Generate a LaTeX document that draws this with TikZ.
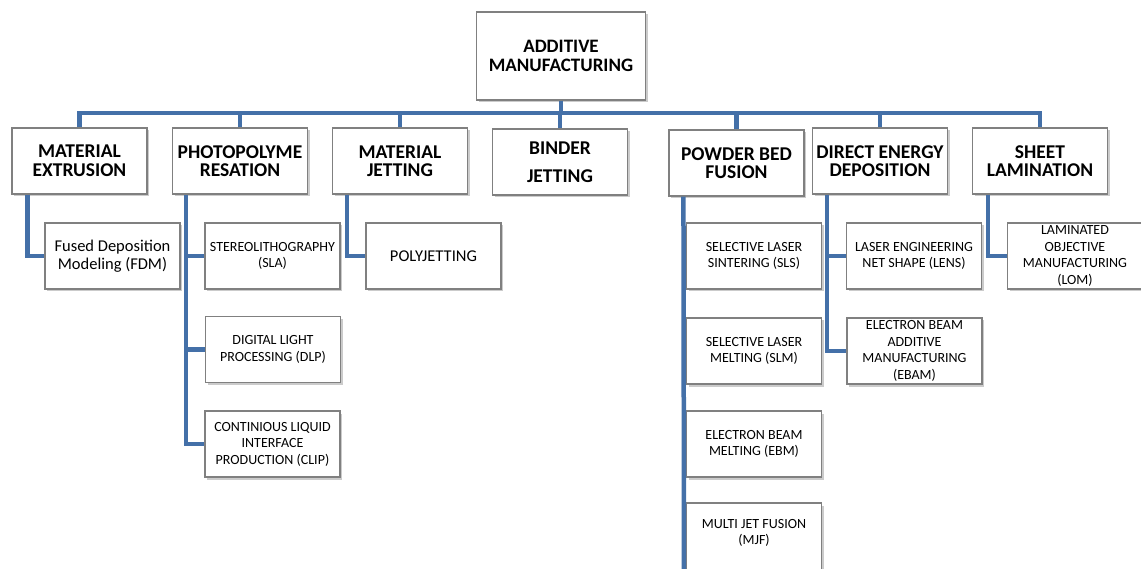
\documentclass[tikz,border=0pt]{standalone}
\usepackage{fontspec}
\setmainfont{Carlito}
\usetikzlibrary{shadows,calc}
\definecolor{conncol}{RGB}{68,112,168}
\definecolor{boxborder}{RGB}{128,128,128}
\tikzset{
  box/.style={draw=boxborder, line width=1.1pt, fill=white, align=center,
    minimum width=135pt, minimum height=66pt, inner sep=1pt,
    drop shadow={shadow xshift=2pt, shadow yshift=-2.5pt, fill=black!45, opacity=.45}},
  topbox/.style={box, font=\fontsize{19.5}{18.5}\selectfont\bfseries},
  subbox/.style={box, font=\fontsize{14}{16.5}\selectfont},
  conn/.style={draw=conncol, line width=4.5pt}
}
\begin{document}
\begin{tikzpicture}[x=1pt,y=-1pt]
\useasboundingbox (0,0) rectangle (1141,569);
\clip (0,0) rectangle (1141,569);
\fill[white] (0,0) rectangle (1141,569);
\coordinate (bus) at (0,113);
% level 1 nodes
\node[topbox, font=\fontsize{19}{18.5}\selectfont\bfseries, minimum width=169pt, minimum height=88pt] (root) at (561,56) {ADDITIVE\\MANUFACTURING};
\node[topbox] (me)  at (79.5,161)  {MATERIAL\\EXTRUSION};
\node[topbox] (pr)  at (240,161) {PHOTOPOLYME\\RESATION};
\node[topbox] (mj)  at (400,161) {MATERIAL\\JETTING};
\node[topbox, font=\fontsize{19.5}{28}\selectfont\bfseries] (bj)  at (560,162) {BINDER\\JETTING};
\node[topbox] (pbf) at (736.5,163) {POWDER BED\\FUSION};
\node[topbox] (ded) at (880,161) {DIRECT ENERGY\\DEPOSITION};
\node[topbox] (sl)  at (1040,161) {SHEET\\LAMINATION};
% level 1 connectors
\draw[conn] (root.south) -- (root.south |- bus);
\draw[conn] (me.north) |- (sl.north |- bus) -- (sl.north);
\foreach \n in {pr,mj,bj,pbf,ded} { \draw[conn] (\n.north) -- (\n.north |- bus); }
% level 2 nodes
\node[subbox, font=\fontsize{16.5}{18.3}\selectfont] (fdm) at (112.5,256) {Fused Deposition\\Modeling (FDM)};
\node[subbox] (sla)  at (272.5,256) {STEREOLITHOGRAPHY\\(SLA)};
\node[subbox] (dlp)  at (273,349.5) {DIGITAL LIGHT\\PROCESSING (DLP)};
\node[subbox] (clip) at (272.5,444) {CONTINIOUS LIQUID\\INTERFACE\\PRODUCTION (CLIP)};
\node[subbox, font=\fontsize{16.5}{18}\selectfont] (poly) at (433.5,256) {POLYJETTING};
\node[subbox] (sls)  at (754,256) {SELECTIVE LASER\\SINTERING (SLS)};
\node[subbox] (slm)  at (754,351) {SELECTIVE LASER\\MELTING (SLM)};
\node[subbox] (ebm)  at (754,444) {ELECTRON BEAM\\MELTING (EBM)};
\node[subbox, minimum height=72pt, text depth=14pt] (mjf) at (754,539) {MULTI JET FUSION\\(MJF)};
\node[subbox] (lens) at (914,256) {LASER ENGINEERING\\NET SHAPE (LENS)};
\node[subbox] (ebam) at (914.5,351) {ELECTRON BEAM\\ADDITIVE\\MANUFACTURING\\(EBAM)};
\node[subbox] (lom)  at (1075,256) {LAMINATED\\OBJECTIVE\\MANUFACTURING\\(LOM)};
% level 2 connectors
\draw[conn] ($(me.south west)+(16,0)$) |- (fdm.west);
\draw[conn] ($(pr.south west)+(14,0)$) coordinate (prb) |- (clip.west);
\draw[conn] (prb |- sla.west) -- (sla.west);
\draw[conn] (prb |- dlp.west) -- (dlp.west);
\draw[conn] ($(mj.south west)+(15,0)$) |- (poly.west);
\draw[conn] ($(pbf.south west)+(15,0)$) -- ($(mjf.west)+(-2,0)$) -- ($(mjf.south west)+(-2,0)$);
\draw[conn] ($(ded.south west)+(15,0)$) coordinate (dedb) |- (ebam.west);
\draw[conn] (dedb |- lens.west) -- (lens.west);
\draw[conn] ($(sl.south west)+(16,0)$) |- (lom.west);
\end{tikzpicture}
\end{document}
